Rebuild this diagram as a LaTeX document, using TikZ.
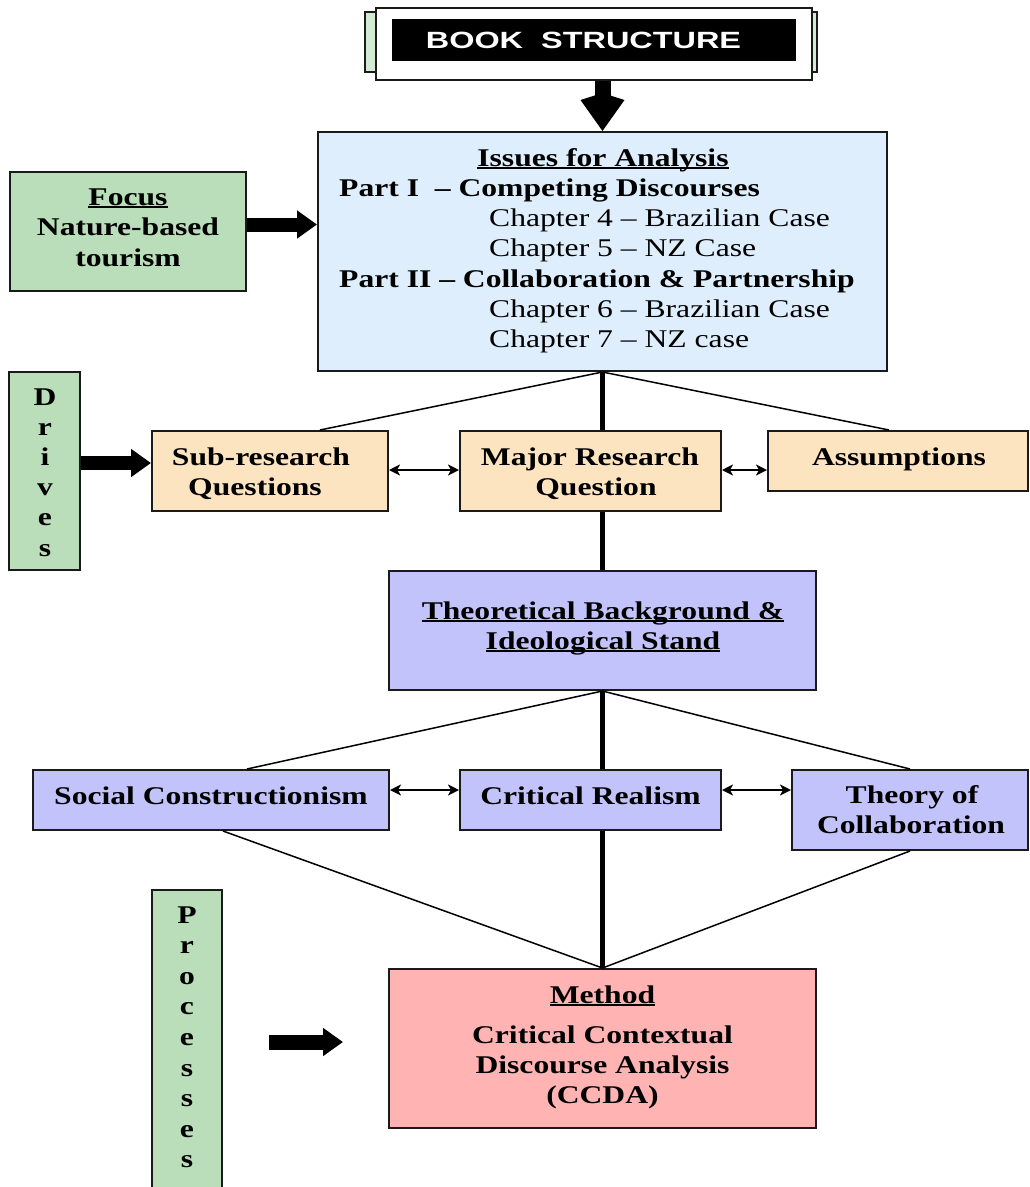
\documentclass[tikz,border=0pt]{standalone}
\usepackage{fontspec}
\setmainfont{Liberation Serif}[FakeStretch=1.24]
\newfontfamily\headfont{Liberation Sans}[FakeStretch=1.38]
\usetikzlibrary{arrows.meta}

\definecolor{boxgreen}{HTML}{B9DEB9}
\definecolor{palegreen}{HTML}{D3EAD3}
\definecolor{boxblue}{HTML}{DEEEFC}
\definecolor{boxpeach}{HTML}{FDE4C0}
\definecolor{boxlilac}{HTML}{C3C3FB}
\definecolor{boxpink}{HTML}{FFB3B3}
\definecolor{edge}{HTML}{1A1A1A}

% underline running just below the baseline
\newcommand\uln[1]{\setbox0\hbox{#1}\rlap{\rule[-3pt]{\wd0}{2pt}}\box0}

\tikzset{
  panel/.style={draw=edge, line width=2pt, inner sep=0pt},
  label/.style={inner sep=0pt, anchor=base, font=\bfseries\fontsize{25.5}{30}\selectfont},
  plain/.style={inner sep=0pt, anchor=base west, font=\fontsize{25.5}{30}\selectfont},
  blockarrow/.style={line width=14pt, -{Triangle[length=20pt, width=27pt]}},
  twoway/.style={line width=2pt, {Stealth[length=11pt, width=11pt, inset=3pt]}-{Stealth[length=11pt, width=11pt, inset=3pt]}},
  link/.style={line width=1.5pt},
  spine/.style={line width=4.5pt}
}

\begin{document}
\begin{tikzpicture}[x=1pt, y=-1pt]
\clip (0,0) rectangle (1029,1187);
\fill[white] (0,0) rectangle (1029,1187);

% title banner
\node[panel, draw=edge, line width=1.5pt, fill=palegreen, minimum width=452pt, minimum height=60pt] (bookback) at (591,42) {};
\node[panel, line width=1.5pt, fill=white, minimum width=436pt, minimum height=72pt] (book) at (594,44) {};
\node[fill=black, inner sep=0pt, minimum width=404pt, minimum height=42pt] (bookbar) at (594,40) {};
\node[inner sep=0pt, anchor=base, text=white, font=\headfont\bfseries\fontsize{23.5}{28}\selectfont] (booktitle) at (583.5,48) {BOOK\ \ STRUCTURE};

% boxes
\node[panel, fill=boxblue, minimum width=569pt, minimum height=239pt] (issues) at (602.5,251.5) {};
\node[panel, fill=boxgreen, minimum width=236pt, minimum height=119pt] (focus) at (128,231.5) {};
\node[panel, fill=boxgreen, minimum width=71pt, minimum height=198pt] (drives) at (44.5,471) {};
\node[panel, fill=boxpeach, minimum width=236pt, minimum height=80pt] (sub) at (270,471) {};
\node[panel, fill=boxpeach, minimum width=261pt, minimum height=80pt] (major) at (590.5,471) {};
\node[panel, fill=boxpeach, minimum width=260pt, minimum height=60pt] (assum) at (898,461) {};
\node[panel, fill=boxlilac, minimum width=427pt, minimum height=119pt] (theo) at (602.5,630.5) {};
\node[panel, fill=boxlilac, minimum width=356pt, minimum height=60pt] (social) at (211,800) {};
\node[panel, fill=boxlilac, minimum width=261pt, minimum height=60pt] (critical) at (590.5,800) {};
\node[panel, fill=boxlilac, minimum width=236pt, minimum height=80pt] (theory) at (910,810) {};
\node[panel, fill=boxpink, minimum width=427pt, minimum height=159pt] (method) at (602.5,1048.5) {};
\node[panel, fill=boxgreen, minimum width=70pt, minimum height=310pt] (processes) at (187,1045) {};

% texts of the issues box
\node[label] (issuestitle) at (603,166) {\uln{Issues for Analysis}};
\node[plain, font=\bfseries\fontsize{25.5}{30}\selectfont] (part1) at (339,196) {Part I\ \ – Competing Discourses};
\node[plain] (ch4) at (489,226) {Chapter 4 – Brazilian Case};
\node[plain] (ch5) at (489,256.5) {Chapter 5 – NZ Case};
\node[plain, font=\bfseries\fontsize{25.5}{30}\selectfont] (part2) at (339,287) {Part II – Collaboration \& Partnership};
\node[plain] (ch6) at (489,317.5) {Chapter 6 – Brazilian Case};
\node[plain] (ch7) at (489,347.5) {Chapter 7 – NZ case};

% focus
\node[label] (focus1) at (128,205) {\uln{Focus}};
\node[label] (focus2) at (128,235.5) {Nature-based};
\node[label] (focus3) at (128,266) {tourism};

% vertical words
\foreach \ch [count=\i] in {D,r,i,v,e,s}
  \node[label] (drv\i) at (45,{405+30.2*(\i-1)}) {\ch};
\foreach \ch [count=\i] in {P,r,o,c,e,s,s,e,s}
  \node[label] (prc\i) at (187,{923+30.6*(\i-1)}) {\ch};

% research row
\node[label] (sub1) at (261,465) {Sub-research};
\node[label] (sub2) at (255,495.5) {Questions};
\node[label] (major1) at (590,465) {Major Research};
\node[label] (major2) at (596,495.5) {Question};
\node[label] (assum1) at (899,465) {Assumptions};

% theory block
\node[label] (theo1) at (603,619) {\uln{Theoretical Background \&}};
\node[label] (theo2) at (603,649) {\uln{Ideological Stand}};
\node[label] (social1) at (211,804) {Social Constructionism};
\node[label] (critical1) at (590.5,804) {Critical Realism};
\node[label] (theory1) at (912,803) {Theory of};
\node[label] (theory2) at (911,833) {Collaboration};

% method
\node[label] (method1) at (602.5,1003) {\uln{Method}};
\node[label] (method2) at (602.5,1043) {Critical Contextual};
\node[label] (method3) at (602.5,1073) {Discourse Analysis};
\node[label] (method4) at (602.5,1103) {(CCDA)};

% block arrows
\draw[line width=16pt, -{Kite[length=38pt, width=44pt, inset=7pt]}] (book.south -| issues.north) -- (issues.north);
\draw[blockarrow] (focus.east |- 0,224.5) -- (issues.west |- 0,224.5);
\draw[blockarrow] (drives.east |- 0,463) -- (sub.west |- 0,463);
\coordinate (procstart) at (269,1042);
\coordinate (procend) at (343,1042);
\draw[line width=15pt, -{Triangle[length=20pt, width=27pt]}] (procstart) -- (procend);

% two-way links
\draw[twoway] (sub.east |- 0,470) -- (major.west |- 0,470);
\draw[twoway] (major.east |- 0,470) -- (assum.west |- 0,470);
\draw[twoway] (social.east |- 0,790) -- (critical.west |- 0,790);
\draw[twoway] (critical.east |- 0,790) -- (theory.west |- 0,790);

% fan lines
\draw[link] (issues.south) -- ([xshift=50pt]sub.north);
\draw[link] (issues.south) -- ([xshift=-9pt]assum.north);
\draw[link] (theo.south) -- ([xshift=36pt]social.north);
\draw[link] (theo.south) -- (theory.north);
\draw[link] ([xshift=12pt]social.south) -- (method.north);
\draw[link] (theory.south) -- (method.north);

% spine
\draw[spine] (issues.south) -- (issues.south |- major.north);
\draw[spine] (issues.south |- major.south) -- (theo.north);
\draw[spine] (theo.south) -- (theo.south |- critical.north);
\draw[spine] (theo.south |- critical.south) -- (method.north);
\end{tikzpicture}
\end{document}
